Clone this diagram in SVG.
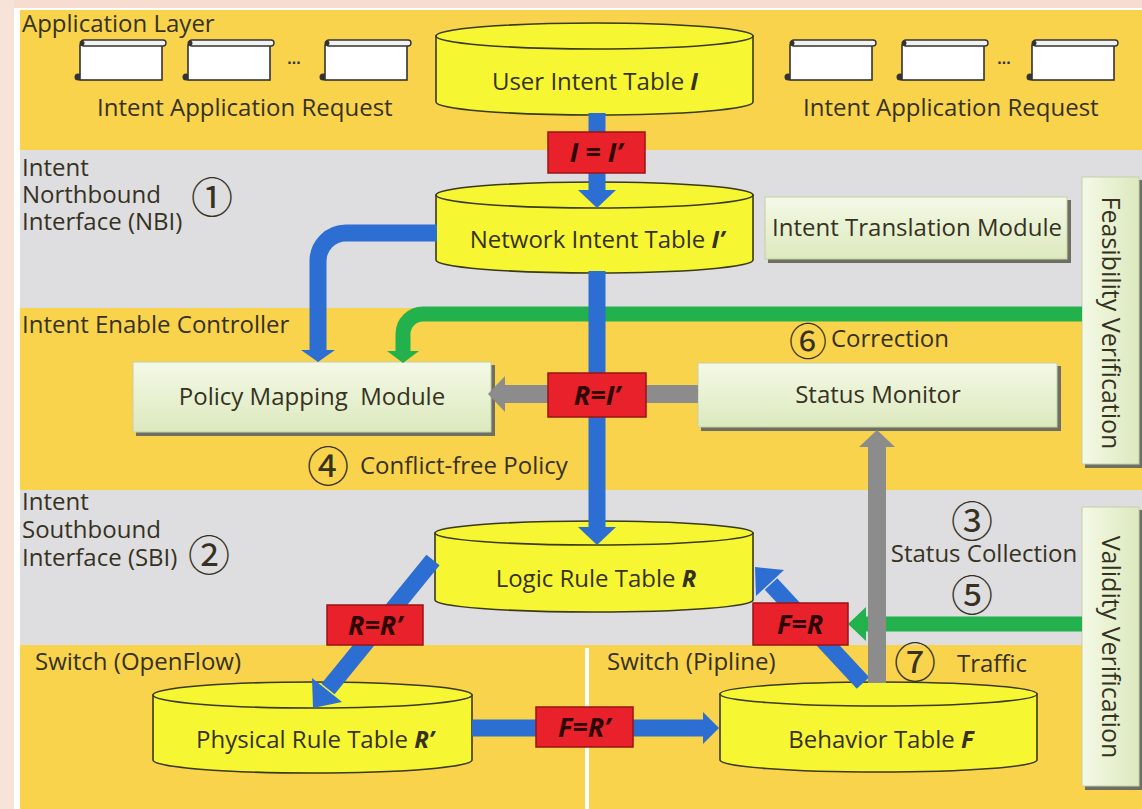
<svg xmlns="http://www.w3.org/2000/svg" width="1142" height="809" viewBox="0 0 1142 809">
<defs>
<linearGradient id="gbox" x1="0" y1="0" x2="0" y2="1"><stop offset="0" stop-color="#F4F9E6"/><stop offset="1" stop-color="#DCE9BE"/></linearGradient>
<linearGradient id="gboxh" x1="0" y1="0" x2="1" y2="0"><stop offset="0" stop-color="#F4F9E6"/><stop offset="1" stop-color="#DCE9BE"/></linearGradient>
<g id="doc">
<circle cx="-2" cy="32" r="3.5" fill="#333"/>
<rect x="0" y="0" width="82" height="35" fill="#FFFFFF" stroke="#333" stroke-width="1.6"/>
<rect x="1" y="-5" width="85" height="6" rx="3" fill="#F2F2F2" stroke="#333" stroke-width="1.4"/>
<circle cx="2" cy="-2" r="2.5" fill="#333"/>
</g>
<style>
.t{font-family:"Open Sans","Noto Sans",sans-serif;fill:#36321F;font-size:24px}
.m{text-anchor:middle}
.bi{font-weight:bold;font-style:italic}
.n{font-family:"Noto Sans CJK SC","DejaVu Sans",sans-serif;font-size:42px;fill:#36321F;text-anchor:middle}
.cyl{fill:#F6F633;stroke:#3A3A18;stroke-width:1.6}
.lab{fill:#E8212A;stroke:#9A1515;stroke-width:1.5}
.lt{font-family:"Open Sans","Noto Sans",sans-serif;font-weight:bold;font-style:italic;font-size:27px;fill:#2E0606;text-anchor:middle}
.box{fill:url(#gbox);stroke:#C4D0A6;stroke-width:1}
.boxv{fill:url(#gboxh);stroke:#C4D0A6;stroke-width:1}
.sh{fill:#6E6E62}
.blue{fill:none;stroke:#2D6ED3;stroke-width:17}
.bf{fill:#2D6ED3}
.green{fill:none;stroke:#22B14C;stroke-width:15}
.gf{fill:#22B14C}
.gray{fill:none;stroke:#8C8C8C;stroke-width:18}
.grf{fill:#8C8C8C}
</style>
</defs>

<!-- background -->
<rect x="0" y="0" width="1142" height="809" fill="#FFFFFF"/>
<rect x="0" y="0" width="1142" height="8" fill="#F6DDD0"/>
<rect x="0" y="0" width="14" height="809" fill="#F8E3D8"/>
<rect x="20" y="10" width="1122" height="140" fill="#F9D34C"/>
<rect x="20" y="150" width="1122" height="158" fill="#DEDDE0"/>
<rect x="20" y="308" width="1122" height="182" fill="#F9D34C"/>
<rect x="20" y="490" width="1122" height="155" fill="#DEDDE0"/>
<rect x="20" y="645" width="1122" height="164" fill="#F9D34C"/>
<rect x="585" y="648" width="4" height="161" fill="#FFFFFF"/>

<!-- band labels -->
<g id="labels">
<text class="t" x="22" y="32">Application Layer</text>
<text class="t" x="97" y="116">Intent Application Request</text>
<text class="t" x="803" y="116">Intent Application Request</text>
<text class="t" x="22" y="176">Intent</text>
<text class="t" x="22" y="203">Northbound</text>
<text class="t" x="22" y="230">Interface (NBI)</text>
<text class="n" x="212" y="213">①</text>
<text class="t" x="22" y="333">Intent Enable Controller</text>
<text class="n" x="328" y="482">④</text>
<text class="t" x="360" y="474">Conflict-free Policy</text>
<text class="t" x="22" y="510">Intent</text>
<text class="t" x="22" y="538">Southbound</text>
<text class="t" x="22" y="566">Interface (SBI)</text>
<text class="n" x="209" y="571">②</text>
<text class="t" x="35" y="670">Switch (OpenFlow)</text>
<text class="t" x="607" y="670">Switch (Pipline)</text>
<text class="n" x="808" y="355" style="font-size:38px">⑥</text>
<text class="t" x="831" y="347">Correction</text>
<text class="n" x="972" y="537">③</text>
<text class="t m" x="984" y="562">Status Collection</text>
<text class="n" x="972" y="611">⑤</text>
<text class="n" x="915" y="678">⑦</text>
<text class="t" x="957" y="672">Traffic</text>
</g>

<!-- application request icons -->
<g id="requests">
<use href="#doc" x="80" y="45"/>
<use href="#doc" x="188" y="45"/>
<text x="294" y="64" font-family="Liberation Sans,sans-serif" font-size="16" font-weight="bold" fill="#333" text-anchor="middle">...</text>
<use href="#doc" x="325" y="45"/>
<use href="#doc" x="790" y="45"/>
<use href="#doc" x="902" y="45"/>
<text x="1004" y="64" font-family="Liberation Sans,sans-serif" font-size="16" font-weight="bold" fill="#333" text-anchor="middle">...</text>
<use href="#doc" x="1032" y="45"/>
</g>

<!-- modules -->
<g id="intent-translation">
<rect class="sh" x="768" y="200" width="303" height="63"/>
<rect class="box" x="765" y="197" width="302" height="62"/>
<text class="t m" x="917" y="236">Intent Translation Module</text>
</g>
<g id="policy-mapping">
<rect class="sh" x="136" y="365" width="359" height="71"/>
<rect class="box" x="133" y="362" width="358" height="70"/>
<text class="t m" x="312" y="405" xml:space="preserve">Policy Mapping  Module</text>
</g>
<g id="status-monitor">
<rect class="sh" x="701" y="366" width="360" height="65"/>
<rect class="box" x="698" y="363" width="359" height="64"/>
<text class="t m" x="878" y="403">Status Monitor</text>
</g>
<g id="feasibility">
<rect class="sh" x="1085" y="180" width="57" height="288"/>
<rect class="boxv" x="1082" y="177" width="57" height="287"/>
<text class="t m" x="1111" y="323" transform="rotate(90 1111 323)" dy="9" style="font-size:25px">Feasibility Verification</text>
</g>
<g id="validity">
<rect class="sh" x="1085" y="510" width="57" height="280"/>
<rect class="boxv" x="1082" y="507" width="57" height="279"/>
<text class="t m" x="1111" y="647" transform="rotate(90 1111 647)" dy="9" style="font-size:25px">Validity Verification</text>
</g>

<!-- tables -->
<g id="user-intent-table">
<path class="cyl" d="M436,36 V102 A158.5,13 0 0 0 753,102 V36 Z"/>
<ellipse class="cyl" cx="594.5" cy="36" rx="158.5" ry="13"/>
<text class="t m" x="595" y="90">User Intent Table <tspan class="bi">I</tspan></text>
</g>
<g id="network-intent-table">
<path class="cyl" d="M436,195 V260 A158.5,13 0 0 0 753,260 V195 Z"/>
<ellipse class="cyl" cx="594.5" cy="195" rx="158.5" ry="13"/>
<text class="t m" x="597" y="248">Network Intent Table <tspan class="bi">I’</tspan></text>
</g>
<g id="logic-rule-table">
<path class="cyl" d="M435,533 V600 A159,12 0 0 0 753,600 V533 Z"/>
<ellipse class="cyl" cx="594" cy="533" rx="159" ry="12"/>
<text class="t m" x="596" y="587">Logic Rule Table <tspan class="bi">R</tspan></text>
</g>
<g id="physical-rule-table">
<path class="cyl" d="M153,695 V760 A159.5,13 0 0 0 472,760 V695 Z"/>
<ellipse class="cyl" cx="312.5" cy="695" rx="159.5" ry="13"/>
<text class="t m" x="315" y="748">Physical Rule Table <tspan class="bi">R’</tspan></text>
</g>
<g id="behavior-table">
<path class="cyl" d="M720,694 V760 A158.5,12 0 0 0 1037,760 V694 Z"/>
<ellipse class="cyl" cx="878.5" cy="694" rx="158.5" ry="12"/>
<text class="t m" x="881" y="748">Behavior Table <tspan class="bi">F</tspan></text>
</g>

<!-- connectors -->
<g id="connectors">
<path class="green" d="M1082,314 H423 A20,20 0 0 0 403,334 V352"/>
<polygon class="gf" points="387,351 419,351 403,363"/>
<path class="green" d="M1082,624 H864" stroke-width="17"/>
<polygon class="gf" points="866,607 866,641 848,624"/>

<line class="blue" x1="597" y1="113" x2="597" y2="192"/>
<polygon class="bf" points="578,190 616,190 597,208"/>
<line class="blue" x1="597" y1="271" x2="597" y2="529"/>
<polygon class="bf" points="578,527 616,527 597,545"/>
<path class="blue" d="M437,233 H346 A28,28 0 0 0 318,261 V352"/>
<polygon class="bf" points="301,350 335,350 318,362"/>
<line class="blue" x1="433" y1="560" x2="328" y2="689"/>
<polygon class="bf" points="342,702 312,678 313,708"/>
<line class="blue" x1="863" y1="683" x2="771" y2="584"/>
<polygon class="bf" points="784,570 756,596 755,567"/>
<line class="blue" x1="472" y1="728" x2="705" y2="728"/>
<polygon class="bf" points="703,712 703,744 719,728"/>

<line class="gray" x1="698" y1="394" x2="503" y2="394"/>
<polygon class="grf" points="505,376 505,412 488,394"/>
<line class="gray" x1="877" y1="683" x2="877" y2="445"/>
<polygon class="grf" points="859,447 895,447 877,430"/>

<g id="eq-labels">
<rect class="lab" x="548" y="132" width="97" height="41"/>
<text class="lt" x="596" y="162">I = I’</text>
<rect class="lab" x="548" y="373" width="98" height="44"/>
<text class="lt" x="597" y="405">R=I’</text>
<rect class="lab" x="327" y="605" width="96" height="40"/>
<text class="lt" x="375" y="635">R=R’</text>
<rect class="lab" x="753" y="603" width="95" height="42"/>
<text class="lt" x="800" y="634">F=R</text>
<rect class="lab" x="536" y="707" width="97" height="40"/>
<text class="lt" x="584" y="737">F=R’</text>
</g>
</g>
</svg>
